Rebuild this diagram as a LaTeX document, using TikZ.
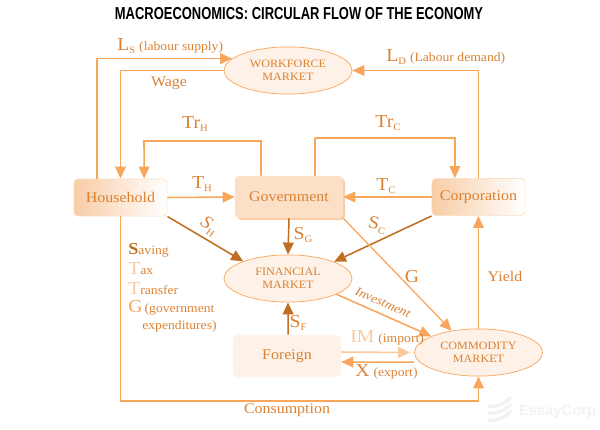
\documentclass[tikz,border=0pt]{standalone}
\usepackage{fontspec}
\setmainfont[FakeStretch=1.08]{Liberation Serif}
\newfontfamily\titlefont[FakeStretch=0.75]{Liberation Sans}
\newfontfamily\markfont{Liberation Sans}
\usetikzlibrary{arrows.meta,shapes.geometric,positioning}
\definecolor{Ink}{HTML}{DB8232}
\definecolor{Flow}{HTML}{F8A65C}
\definecolor{Pale}{HTML}{FAC99C}
\definecolor{Dark}{HTML}{BF6E22}
\definecolor{Cream}{HTML}{FDF1E8}
\definecolor{Peach}{HTML}{FBDFC6}
\definecolor{Edge}{HTML}{F8BC86}
\definecolor{Grad}{HTML}{F8CDA5}
\definecolor{Mark}{HTML}{F2F2F2}
\newcommand{\capl}[1]{{\fontsize{13}{14}\selectfont #1}}
\newcommand{\subl}[1]{\raisebox{-0.55ex}{\scriptsize #1}}

\begin{document}
\begin{tikzpicture}[
  x=0.025cm, y=-0.025cm,
  font=\rmfamily,
  market/.style={draw=Flow, fill=Cream, ellipse, minimum width=3.2cm, minimum height=1.18cm, inner sep=0pt, align=center, text=Ink, font=\footnotesize, line width=0.5pt},
  agent/.style={rounded corners=3pt, minimum width=2.33cm, minimum height=0.93cm, inner sep=0pt, text=Ink, font=\fontsize{10.5}{12}\selectfont},
  wide/.style={agent, minimum width=2.7cm, minimum height=1.05cm},
  grad/.style={agent, draw=Peach, left color=Grad, right color=white, line width=0.5pt},
  lab/.style={text=Ink, font=\fontsize{10.5}{12}\selectfont, inner sep=0pt},
  small/.style={text=Ink, font=\fontsize{9}{11}\selectfont, inner sep=0pt},
  arr/.style={-{Triangle[length=0.3cm,width=0.27cm]}, line width=1.1pt, draw=Flow},
  sarr/.style={arr, draw=Dark},
  parr/.style={arr, draw=Pale},
]
\useasboundingbox (0,0) rectangle (600,429);
\node[inner sep=0pt] (title) at (299,14) {\titlefont\bfseries\fontsize{12.3}{13}\selectfont MACROECONOMICS: CIRCULAR FLOW OF THE ECONOMY};

% watermark
\node[inner sep=0pt, text=Mark] (mk) at (557.5,412) {\markfont\bfseries\fontsize{10.5}{12}\selectfont EssayCorp};
\foreach \yy in {404,411,418}
  \draw[Mark, line width=2.4pt] (488,\yy+2) .. controls (495,\yy+4) and (506,\yy-1) .. (511,\yy-7);

% markets
\node[market] (wf) at (288,70.5) {WORKFORCE\\MARKET};
\node[market] (fin) at (288,278.5) {FINANCIAL\\MARKET};
\node[market] (cm) at (478.5,352.5) {COMMODITY\\MARKET};

% agents
\node[grad] (hh) at (120.5,197.5) {Household};
\node[grad] (cp) at (478.5,197) {Corporation};
\node[wide, fill=Edge!75] (gvs) at (291,199) {};
\node[wide, fill=Peach] (gv) at (289,197) {Government};
\node[wide, fill=Cream] (fg) at (287,356) {Foreign};

% flows
\draw[arr] ([xshift=-0.59cm]hh.north) |- (wf.168);
\draw[arr] (wf.west) -| (hh.north);
\draw[arr] (cp.north) |- (wf.east);
\coordinate (trh) at (144,141);
\coordinate (trc) at (315,138);
\draw[arr] ([xshift=-0.7cm]gv.north) |- (trh) -- ([xshift=0.59cm]hh.north);
\draw[arr] ([xshift=0.65cm]gv.north) |- (trc) -| ([xshift=-0.59cm]cp.north);
\draw[arr] (hh.east) -- (gv.west);
\draw[arr] (cp.west) -- (gv.east);
\draw[sarr] (hh.south east) -- (fin.159);
\draw[sarr] (gv.south) -- (fin.north);
\draw[sarr] (cp.south west) -- (fin.20);
\draw[sarr] ([xshift=0.03cm]fg.north) -- (fin.south);
\draw[arr] (fin.-18) -- (cm.161);
\draw[arr, line width=0.9pt] (gv.south east) -- (cm.141);
\draw[arr] (cm.north) -- (cp.south);
\draw[parr] ([yshift=0.1cm]fg.east) -- ([xshift=-0.1cm]cm.west);
\draw[arr] ([yshift=-0.24cm]cm.west) -- ([yshift=-0.15cm]fg.east);
\coordinate (cons) at (478.5,401);
\draw[arr] (hh.south) |- (cons) -- (cm.south);

% labels
\node[lab, anchor=west] (lsl) at (117,46) {\capl{L}\subl{S} {\fontsize{9}{11}\selectfont (labour supply)}};
\node[lab] (wl) at (169,83) {Wage};
\node[lab, anchor=west] (ldl) at (386,57) {\capl{L}\subl{D} {\fontsize{9}{11}\selectfont (Labour demand)}};
\node[lab] (trhl) at (195,124) {\capl{Tr}\subl{H}};
\node[lab] (trcl) at (388,123) {\capl{Tr}\subl{C}};
\node[lab] (thl) at (202,184) {\capl{T}\subl{H}};
\node[lab] (tcl) at (386,186) {\capl{T}\subl{C}};
\node[lab, rotate=-35] (shl) at (209,226) {\capl{\textit{S}}\subl{H}};
\node[lab] (sgl) at (303,235) {\capl{S}\subl{G}};
\node[lab, rotate=-12] (scl) at (377,225) {\capl{S}\subl{C}};
\node[lab] (sfl) at (298,323) {\capl{S}\subl{F}};
\node[lab] (gl) at (412,277) {\capl{G}};
\node[lab] (yl) at (505,276) {Yield};
\node[small, rotate=-24, font=\fontsize{9}{11}\selectfont\itshape] (il) at (383,302.5) {Investment};
\node[lab, anchor=west] (iml) at (350,338) {\textcolor{Pale}{\capl{IM}} {\fontsize{9}{11}\selectfont (import)}};
\node[lab, anchor=west] (xl) at (355,372) {\capl{X} {\fontsize{9}{11}\selectfont (export)}};
\node[lab] (conl) at (287,410) {Consumption};

% key
\node[small, anchor=west] (k1) at (128,250) {\textcolor{Dark}{\large\textbf{S}}aving};
\node[small, anchor=west] (k2) at (128,269) {\textcolor{Pale}{\capl{T}}ax};
\node[small, anchor=west] (k3) at (128,289) {\textcolor{Pale}{\capl{T}}ransfer};
\node[small, anchor=north west, align=left] (k4) at (128,300) {\textcolor{Flow}{\capl{G}}\,(government\\[1pt]\hspace{0.35cm}expenditures)};
\end{tikzpicture}
\end{document}
